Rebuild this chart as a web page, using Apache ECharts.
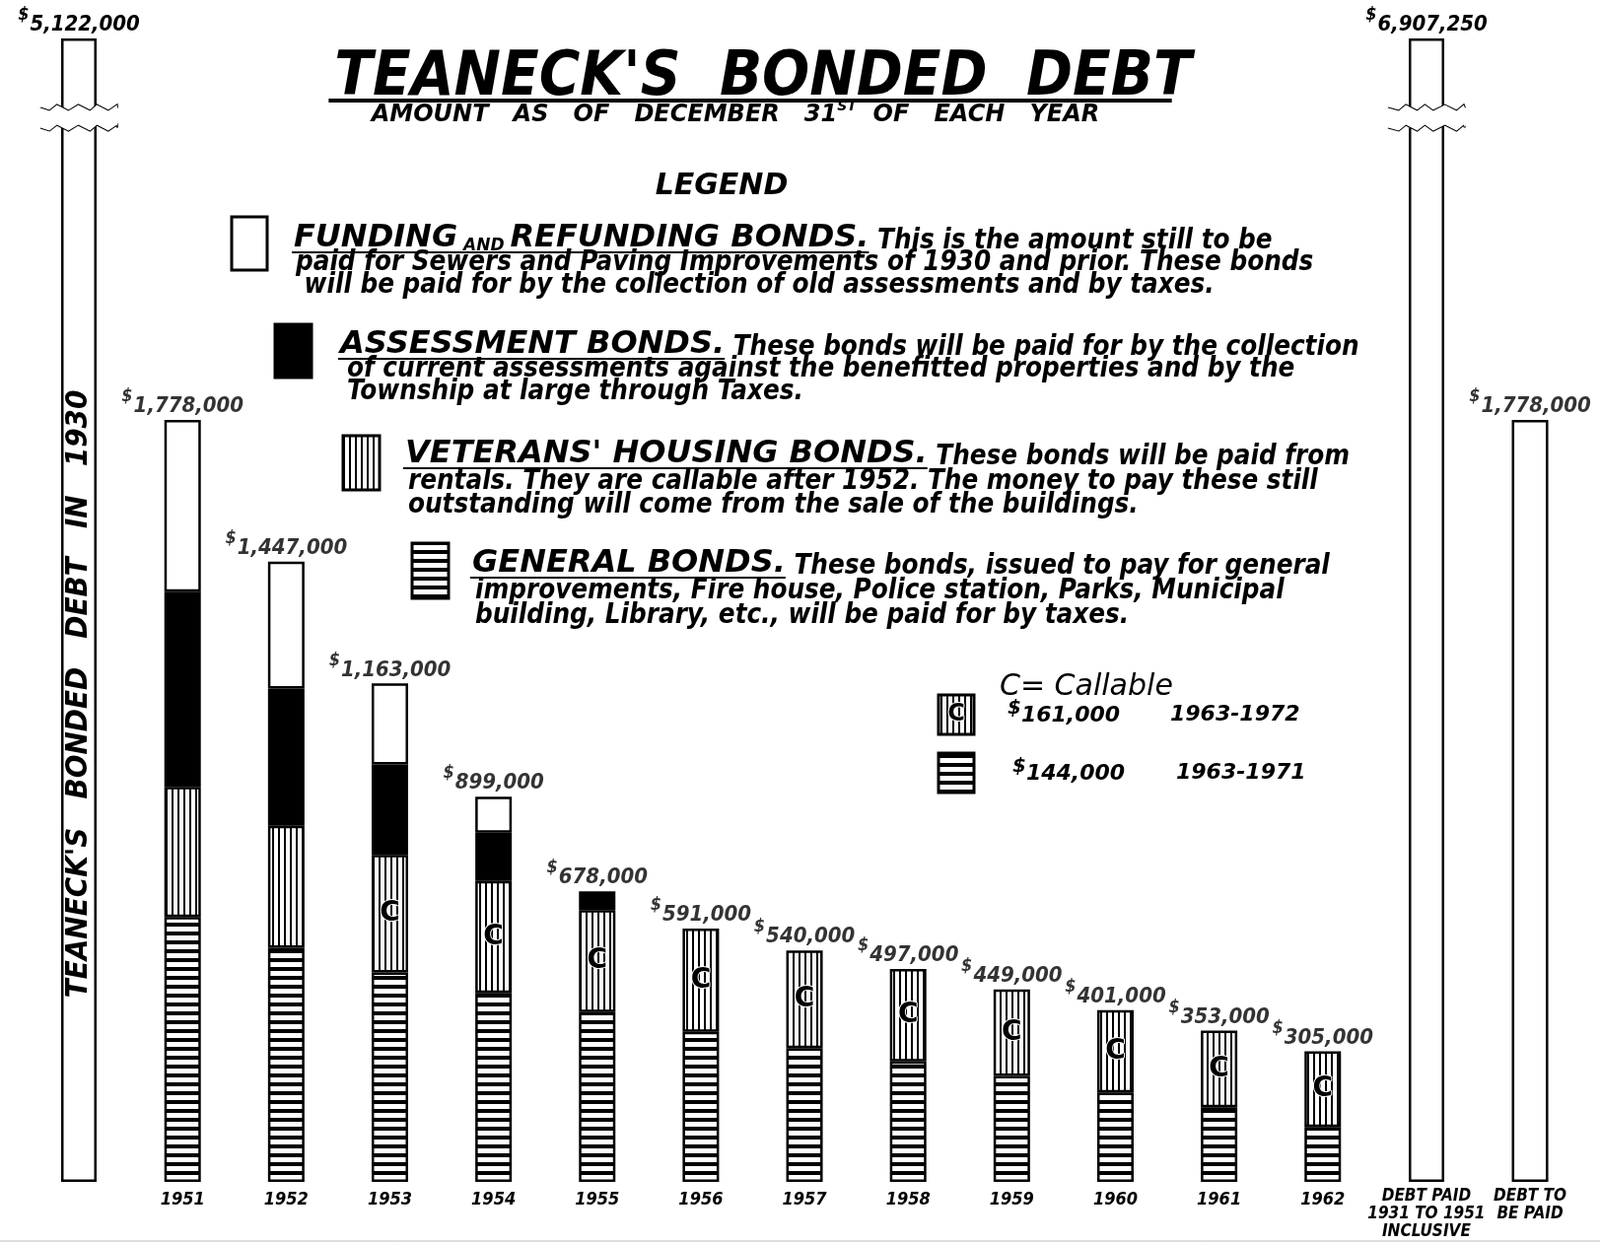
<!DOCTYPE html>
<html><head><meta charset="utf-8">
<script src="https://cdn.jsdelivr.net/npm/echarts@6/dist/echarts.min.js"></script>
<style>html,body{margin:0;padding:0;background:#fff}#c{width:1623px;height:1262px}</style>
</head><body><div id="c"></div>
<script>
// ---------------- DATA ----------------
const categories = ['', '1951', '1952', '1953', '1954', '1955', '1956', '1957', '1958', '1959', '1960', '1961', '1962',
  'DEBT PAID\n1931 TO 1951\nINCLUSIVE', 'DEBT TO\nBE PAID'];
const generalBonds    = [null, 618000, 546000, 489000, 441000, 396000, 350000, 312000, 281000, 247000, 209000, 174000, 128000, null, null];
const veteransBonds   = [null, 304000, 285000, 274000, 261000, 238000, 241000, 228000, 216000, 202000, 192000, 179000, 177000, null, null];
const assessmentBonds = [null, 455000, 320000, 211000, 113000, 44000, null, null, null, null, null, null, null, null, null];
const fundingBonds    = [null, 401000, 296000, 189000, 84000, null, null, null, null, null, null, null, null, null, null];
const debtToBePaid    = [null, null, null, null, null, null, null, null, null, null, null, null, null, null, 1778000];
const yearTotals      = [null, 1778000, 1447000, 1163000, 899000, 678000, 591000, 540000, 497000, 449000, 401000, 353000, 305000, null, 1778000];
const debtIn1930 = [5122000];
const debtPaid1931to1951 = [6907250];
const callableFromYear = 1953;
const callableVeterans = { amount: 161000, period: '1963-1972' };
const callableGeneral  = { amount: 144000, period: '1963-1971' };

// ---------------- STYLE HELPERS ----------------
const FC = "'DejaVu Sans Condensed','Liberation Sans Narrow','DejaVu Sans',sans-serif";
const FW = "'DejaVu Sans','Liberation Sans',sans-serif";
const mctx = document.createElement('canvas').getContext('2d');
function tw(text, size, fam) { mctx.font = 'italic bold ' + size + 'px ' + fam; return mctx.measureText(text).width; }

function makePattern(dir) {
  const c = document.createElement('canvas');
  const g = c.getContext('2d');
  if (dir === 'v') { c.width = 6; c.height = 8; g.fillStyle = '#fff'; g.fillRect(0, 0, 6, 8); g.fillStyle = '#000'; g.fillRect(0, 0, 2, 8); }
  else { c.width = 8; c.height = 9; g.fillStyle = '#fff'; g.fillRect(0, 0, 8, 9); g.fillStyle = '#000'; g.fillRect(0, 0, 8, 4); }
  return c;
}
const vPat = { image: makePattern('v'), repeat: 'repeat' };
const hPat = { image: makePattern('h'), repeat: 'repeat' };

const fmt = v => v.toLocaleString('en-US');
const money = v => '{d|$}{v|' + fmt(v) + '}';
const moneyRich = {
  d: { fontFamily: FC, fontSize: 18, fontWeight: 'bold', fontStyle: 'italic', color: '#000', verticalAlign: 'top', lineHeight: 18, padding: [0, 1, 0, 0] },
  v: { fontFamily: FC, fontSize: 22, fontWeight: 'bold', fontStyle: 'italic', color: '#000', verticalAlign: 'bottom', lineHeight: 30 }
};
const barBorder = { borderColor: '#000', borderWidth: 2.5 };

// break layout for the two tall bars (value units below/above the break)
const BREAK_LOW = 2460000;
const TOP_STUB = 161000;
function tallYAxis(gridIndex, maxV) {
  return {
    gridIndex, type: 'value', min: 0, max: maxV,
    breaks: [{ start: BREAK_LOW, end: maxV - TOP_STUB, gap: '1.72%' }],
    breakArea: { show: true, expandOnClick: false, zigzagAmplitude: 3, zigzagMinSpan: 6, zigzagMaxSpan: 12,
      itemStyle: { color: '#fff', borderColor: '#000', borderWidth: 2, borderType: 'solid', opacity: 1 } },
    axisLine: { show: false }, axisTick: { show: false }, axisLabel: { show: false }, splitLine: { show: false }
  };
}

// ---------------- LEGEND (graphic) ----------------
const G = [];
function txt(x, y, text, size, fam, opts) {
  G.push(Object.assign({ type: 'text', x, y, z: 10, style: Object.assign({ text, fontFamily: fam, fontSize: size, fontWeight: 'bold', fontStyle: 'italic', fill: '#000', textAlign: 'left', textVerticalAlign: 'middle' }, (opts || {}).style || {}) }, (opts || {}).el || {}));
}
function line(x1, y1, x2, y2, w) { G.push({ type: 'line', z: 10, shape: { x1, y1, x2, y2 }, style: { stroke: '#000', lineWidth: w } }); }
function swatch(x, y, w, h, fill, withC) {
  G.push({ type: 'rect', z: 10, shape: { x, y, width: w, height: h }, style: { fill, stroke: '#000', lineWidth: 3 } });
  if (withC) txt(x + w / 2, y + h / 2, 'C', 24, FW, { style: { textAlign: 'center', fontStyle: 'normal', stroke: '#fff', lineWidth: 2 } });
}

// Title
const TITLE = "TEANECK'S  BONDED  DEBT";
const TS = 63;
txt(774, 80, TITLE, TS, FC, { style: { textAlign: 'center' } });
const tW = tw(TITLE, TS, FC);
line(774 - tW / 2 - 6, 102, 774 + tW / 2 - 20, 102, 4);
G.push({ type: 'text', x: 746, y: 115, z: 10, style: {
  text: '{n|AMOUNT   AS   OF   DECEMBER   31}{s|ST}{n|  OF   EACH   YEAR}', textAlign: 'center', textVerticalAlign: 'middle',
  rich: { n: { fontFamily: FW, fontSize: 24, fontWeight: 'bold', fontStyle: 'italic', fill: '#000', verticalAlign: 'bottom', lineHeight: 28 },
          s: { fontFamily: FW, fontSize: 14, fontWeight: 'bold', fontStyle: 'italic', fill: '#000', verticalAlign: 'top', lineHeight: 15 } } } });
txt(732, 189, 'LEGEND', 30, FW, { style: { textAlign: 'center' } });

const HS = 32, BS = 27.5;
const legendItems = [
  { sw: [235, 220, 36, 54, '#fff'], x: 298, x2: 300, ys: [242, 267, 290],
    head: '{h|FUNDING}{k| AND }{h|REFUNDING BONDS.}', headPlain: ['FUNDING', ' AND ', 'REFUNDING BONDS.'],
    first: ' This is the amount still to be',
    rest: ['paid for Sewers and Paving Improvements of 1930 and prior. These bonds', ' will be paid for by the collection of old assessments and by taxes.'] },
  { sw: [279, 329, 37, 54, '#000'], x: 345, x2: 352, ys: [350, 375, 398],
    head: '{h|ASSESSMENT BONDS.}', headPlain: ['ASSESSMENT BONDS.'],
    first: ' These bonds will be paid for by the collection',
    rest: ['of current assessments against the benefitted properties and by the', 'Township at large through Taxes.'] },
  { sw: [348, 442, 37, 55, vPat], x: 411, x2: 414, ys: [461, 489, 513],
    head: "{h|VETERANS' HOUSING BONDS.}", headPlain: ["VETERANS' HOUSING BONDS."],
    first: ' These bonds will be paid from',
    rest: ['rentals. They are callable after 1952. The money to pay these still', 'outstanding will come from the sale of the buildings.'] },
  { sw: [418, 551, 37, 56, hPat], x: 479, x2: 482, ys: [572, 600, 625],
    head: '{h|GENERAL BONDS.}', headPlain: ['GENERAL BONDS.'],
    first: ' These bonds, issued to pay for general',
    rest: ['improvements, Fire house, Police station, Parks, Municipal', 'building, Library, etc., will be paid for by taxes.'] }
];
legendItems.forEach(it => {
  swatch(it.sw[0], it.sw[1], it.sw[2], it.sw[3], it.sw[4]);
  G.push({ type: 'text', x: it.x, y: it.ys[0], z: 10, style: {
    text: it.head + '{b|' + it.first + '}', textAlign: 'left', textVerticalAlign: 'middle',
    rich: { h: { fontFamily: FW, fontSize: HS, fontWeight: 'bold', fontStyle: 'italic', fill: '#000', verticalAlign: 'bottom', lineHeight: 32 },
            k: { fontFamily: FW, fontSize: 17, fontWeight: 'bold', fontStyle: 'italic', fill: '#000', verticalAlign: 'bottom', lineHeight: 24 },
            b: { fontFamily: FC, fontSize: BS, fontWeight: 'bold', fontStyle: 'italic', fill: '#000', verticalAlign: 'bottom', lineHeight: 32 } } } });
  let hw = 0;
  it.headPlain.forEach(p => { hw += (p === ' AND ') ? tw(p, 17, FW) : tw(p, HS, FW); });
  line(it.x - 2, it.ys[0] + 14, it.x + hw, it.ys[0] + 14, 2);
  it.rest.forEach((r, i) => txt(it.x2, it.ys[i + 1], r, BS, FC));
});

// Callable box
txt(1014, 697, 'C= Callable', 30, FW, { style: { fontWeight: 'normal' } });
swatch(952, 705, 36, 40, vPat, true);
swatch(952, 764, 36, 40, hPat, false);
const cRich = {
  d: { fontFamily: FW, fontSize: 20, fontWeight: 'bold', fontStyle: 'italic', fill: '#000', verticalAlign: 'top', lineHeight: 20 },
  v: { fontFamily: FW, fontSize: 22, fontWeight: 'bold', fontStyle: 'italic', fill: '#000', verticalAlign: 'bottom', lineHeight: 28 }
};
G.push({ type: 'text', x: 1022, y: 723, z: 10, style: { text: money(callableVeterans.amount), textVerticalAlign: 'middle', rich: cRich } });
txt(1187, 725, callableVeterans.period, 22, FW);
G.push({ type: 'text', x: 1027, y: 782, z: 10, style: { text: money(callableGeneral.amount), textVerticalAlign: 'middle', rich: cRich } });
txt(1193, 784, callableGeneral.period, 22, FW);

// vertical text inside the 1930 bar
G.push({ type: 'text', x: 80, y: 704, rotation: Math.PI / 2, z: 20, style: {
  text: "TEANECK'S   BONDED   DEBT   IN   1930", fontFamily: FC, fontSize: 31, fontWeight: 'bold', fontStyle: 'italic',
  fill: '#000', textAlign: 'center', textVerticalAlign: 'middle' } });

// faint scan line at bottom
G.push({ type: 'line', z: 1, shape: { x1: 0, y1: 1259, x2: 1623, y2: 1259 }, style: { stroke: '#bbb', lineWidth: 1 } });

// ---------------- CHART ----------------
const chart = echarts.init(document.getElementById('c'), null, { renderer: 'canvas' });
const vLabelIdx = categories.map(c => Number(c) >= callableFromYear);
const axisFont = { fontFamily: FC, fontWeight: 'bold', fontStyle: 'italic', color: '#000' };

const option = {
  backgroundColor: '#fff',
  animation: false,
  grid: [
    { left: 27.5, right: 18.4, top: 39, bottom: 63, containLabel: false, outerBoundsMode: 'none' },
    { left: 41, width: 78, top: 39, bottom: 63, containLabel: false, outerBoundsMode: 'none' },
    { left: 1408, width: 78, top: 39, bottom: 63, containLabel: false, outerBoundsMode: 'none' }
  ],
  xAxis: [
    { gridIndex: 0, type: 'category', data: categories, axisLine: { show: false }, axisTick: { show: false },
      axisLabel: { interval: 0, margin: 6, color: '#000',
        formatter: v => v.indexOf('\n') >= 0 ? v.split('\n').map(s => '{m|' + s + '}').join('\n') : '{y|' + v + '}',
        rich: { y: Object.assign({ fontSize: 18, lineHeight: 20, padding: [4, 0, 0, 0] }, axisFont),
                m: Object.assign({ fontSize: 17, lineHeight: 18 }, axisFont) } } },
    { gridIndex: 1, type: 'category', data: ['1930'], show: false },
    { gridIndex: 2, type: 'category', data: ['paid'], show: false }
  ],
  yAxis: [
    { gridIndex: 0, type: 'value', min: 0, max: 2668000, show: false },
    tallYAxis(1, debtIn1930[0]),
    tallYAxis(2, debtPaid1931to1951[0])
  ],
  series: [
    { name: 'General Bonds', type: 'bar', stack: 'debt', barWidth: 37, data: generalBonds,
      itemStyle: Object.assign({ color: hPat }, barBorder) },
    { name: "Veterans' Housing Bonds", type: 'bar', stack: 'debt', barWidth: 37, data: veteransBonds,
      itemStyle: Object.assign({ color: vPat }, barBorder),
      label: { show: true, position: 'inside', formatter: p => vLabelIdx[p.dataIndex] ? 'C' : '',
        fontFamily: FW, fontSize: 28, fontWeight: 'bold', color: '#000', textBorderColor: '#fff', textBorderWidth: 2 } },
    { name: 'Assessment Bonds', type: 'bar', stack: 'debt', barWidth: 37, data: assessmentBonds,
      itemStyle: Object.assign({ color: '#000' }, barBorder) },
    { name: 'Funding and Refunding Bonds', type: 'bar', stack: 'debt', barWidth: 37, data: fundingBonds,
      itemStyle: Object.assign({ color: '#fff' }, barBorder) },
    { name: 'Debt to be paid', type: 'bar', stack: 'debt', barWidth: 37, data: debtToBePaid,
      itemStyle: Object.assign({ color: '#fff' }, barBorder) },
    { name: 'Totals', type: 'scatter', data: yearTotals, symbolSize: 1, itemStyle: { color: 'rgba(0,0,0,0)' },
      label: { show: true, position: 'top', distance: 2, color: '#000', formatter: p => money(p.value), rich: moneyRich } },
    { name: 'Debt in 1930', type: 'bar', xAxisIndex: 1, yAxisIndex: 1, barWidth: 36, data: debtIn1930,
      itemStyle: Object.assign({ color: '#fff' }, barBorder),
      label: { show: true, position: 'top', distance: 3, color: '#000', formatter: p => money(p.value), rich: moneyRich } },
    { name: 'Debt paid 1931-1951', type: 'bar', xAxisIndex: 2, yAxisIndex: 2, barWidth: 36, data: debtPaid1931to1951,
      itemStyle: Object.assign({ color: '#fff' }, barBorder),
      label: { show: true, position: 'top', distance: 3, color: '#000', formatter: p => money(p.value), rich: moneyRich } }
  ],
  graphic: { elements: G }
};
chart.setOption(option);
</script>
</body></html>
